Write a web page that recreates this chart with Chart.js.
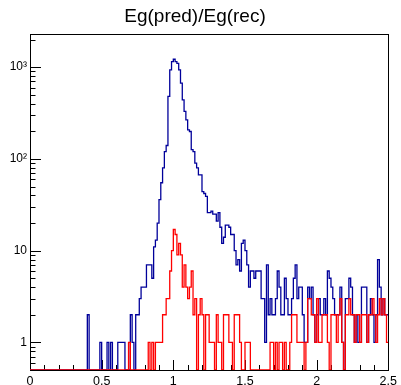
<!DOCTYPE html>
<html>
<head>
<meta charset="utf-8">
<script src="https://cdn.jsdelivr.net/npm/chart.js@4.4.1/dist/chart.umd.min.js"></script>
<style>
  html, body { margin: 0; padding: 0; background: #ffffff; }
  #wrap { width: 401px; height: 385px; }
</style>
</head>
<body>
<div id="wrap"><canvas id="c" width="401" height="385"></canvas></div>
<script>
// Histogram definition: 200 bins from 0 to 2.5
const xMin = 0;
const xMax = 2.5;
const nBins = 200;

// Blue histogram counts (bin contents, left to right)
const blueCounts = [
  0,0,0,0,0,0,0,0,0,0, 0,0,0,0,0,0,0,0,0,0,
  0,0,0,0,0,0,0,0,0,0, 0,0,2,0,0,0,0,0,0,1,
  0,0,0,1,0,1,0,0,0,1, 1,1,1,0,0,0,2,1,0,2,
  2,3,4,4,4,7,7,7,5,11, 13,20,36,55,80,120,140,480,935,1150,
  1220,1150,1100,935,670,440,330,267,207,199, 126,120,90,80,67,67,44,42,39,26,
  26,27,25,25,21,26,18,12,14,19, 19,18,15,15,10,7,8,6,12,13,
  10,7,4,6,6,5,6,6,6,3, 3,1,7,2,3,2,2,3,6,4,
  2,2,5,3,2,2,3,5,7,3, 4,4,2,1,1,4,3,4,2,1,
  2,3,2,2,3,2,6,5,4,3, 2,2,2,4,1,0,3,3,5,4,
  2,1,2,1,1,4,4,4,1,2, 3,2,1,2,8,4,2,3,2,2
];

// Red histogram counts (bin contents, left to right)
const redCounts = [
  0,0,0,0,0,0,0,0,0,0, 0,0,0,0,0,0,0,0,0,0,
  0,0,0,0,0,0,0,0,0,0, 0,0,0,0,0,0,0,0,0,0,
  0,0,0,0,0,0,0,0,0,0, 0,0,0,0,0,1,0,0,0,0,
  0,0,0,0,0,0,1,0,1,0, 1,1,1,1,2,2,3,3,6,10,
  17,15,9,12,9,4,7,4,3,4, 6,2,3,0,2,3,2,0,2,2,
  1,1,1,0,2,1,1,0,2,2, 2,1,1,0,2,2,2,1,0,0,
  1,1,1,0,0,0,0,0,0,0, 0,0,0,0,1,1,0,1,0,1,
  1,0,1,0,0,1,2,2,2,1, 1,1,1,0,1,3,3,2,2,1,
  3,1,1,2,2,2,1,0,2,2, 2,1,2,3,1,0,2,2,3,2,
  2,1,2,2,1,2,2,2,1,2, 2,3,2,1,2,3,2,3,2,1
];

// Axis settings
const yMin = 0.5;
const yMax = 2300;
const xLabelTicks = [0, 0.5, 1, 1.5, 2, 2.5];
const yLabelTicks = [1, 10, 100, 1000];
const yTickText = ['1', '10', '10\u00B2', '10\u00B3'];
const titleText = 'Eg(pred)/Eg(rec)';

const FONT = '"Liberation Sans", Arial, Helvetica, sans-serif';

function stepPoints(counts) {
  const w = (xMax - xMin) / nBins;
  const pts = [];
  for (let i = 0; i < counts.length; i++) {
    const c = counts[i];
    pts.push({ x: xMin + i * w, y: c > 0 ? c : yMin });
  }
  const last = counts[counts.length - 1];
  pts.push({ x: xMax, y: last > 0 ? last : yMin });
  return pts;
}

const rootFrame = {
  id: 'rootFrame',
  beforeDatasetsDraw(chart) {
    const ctx = chart.ctx;
    const a = chart.chartArea;
    const xs = chart.scales.x;
    const ys = chart.scales.y;
    ctx.save();
    ctx.strokeStyle = '#000000';
    ctx.lineWidth = 1;
    ctx.strokeRect(Math.round(a.left) + 0.5, Math.round(a.top) + 0.5,
                   Math.round(a.right - a.left), Math.round(a.bottom - a.top));
    ctx.beginPath();
    for (let k = 0; k <= 25; k++) {
      const v = k * 0.1;
      const px = Math.round(xs.getPixelForValue(v)) + 0.5;
      const len = (k % 5 === 0) ? 10 : 5;
      ctx.moveTo(px, a.bottom);
      ctx.lineTo(px, a.bottom - len);
    }
    for (let d = -1; d <= 3; d++) {
      for (let m = 1; m <= 9; m++) {
        const v = m * Math.pow(10, d);
        if (v < yMin || v > yMax) continue;
        const py = Math.round(ys.getPixelForValue(v)) + 0.5;
        const len = (m === 1) ? 11 : 5.5;
        ctx.moveTo(a.left, py);
        ctx.lineTo(a.left + len, py);
      }
    }
    ctx.stroke();
    ctx.restore();
  }
};

const chart = new Chart(document.getElementById('c'), {
  type: 'line',
  data: {
    datasets: [
      {
        label: 'red',
        data: stepPoints(redCounts),
        borderColor: '#ff0000',
        borderWidth: 1.3,
        pointRadius: 0,
        stepped: true,
        fill: false,
        order: 0
      },
      {
        label: 'blue',
        data: stepPoints(blueCounts),
        borderColor: '#00009a',
        borderWidth: 1.3,
        pointRadius: 0,
        stepped: true,
        fill: false,
        order: 1
      }
    ]
  },
  options: {
    responsive: false,
    animation: false,
    devicePixelRatio: 1,
    layout: { padding: { left: 0, right: 11, top: 0, bottom: 0 } },
    plugins: {
      legend: { display: false },
      tooltip: { enabled: false },
      title: {
        display: true,
        text: titleText,
        color: '#000000',
        font: { family: FONT, size: 19, weight: 'normal' },
        padding: { top: 5, bottom: 6.2 }
      }
    },
    scales: {
      x: {
        type: 'linear',
        min: xMin,
        max: xMax,
        grid: { display: false, drawTicks: false },
        border: { display: false },
        afterBuildTicks: s => { s.ticks = xLabelTicks.map(v => ({ value: v })); },
        ticks: {
          color: '#000000',
          font: { family: FONT, size: 12.5 },
          padding: 4,
          maxRotation: 0,
          autoSkip: false,
          callback: v => String(v)
        },
        afterFit: s => { s.height = 15; }
      },
      y: {
        type: 'logarithmic',
        min: yMin,
        max: yMax,
        grid: { display: false, drawTicks: false },
        border: { display: false },
        afterBuildTicks: s => { s.ticks = yLabelTicks.map(v => ({ value: v })); },
        ticks: {
          color: '#000000',
          font: { family: FONT, size: 12 },
          padding: 3,
          autoSkip: false,
          callback: (v) => {
            const i = yLabelTicks.indexOf(v);
            return i >= 0 ? yTickText[i] : '';
          }
        },
        afterFit: s => { s.width = 30; }
      }
    }
  },
  plugins: [rootFrame]
});
</script>
</body>
</html>
